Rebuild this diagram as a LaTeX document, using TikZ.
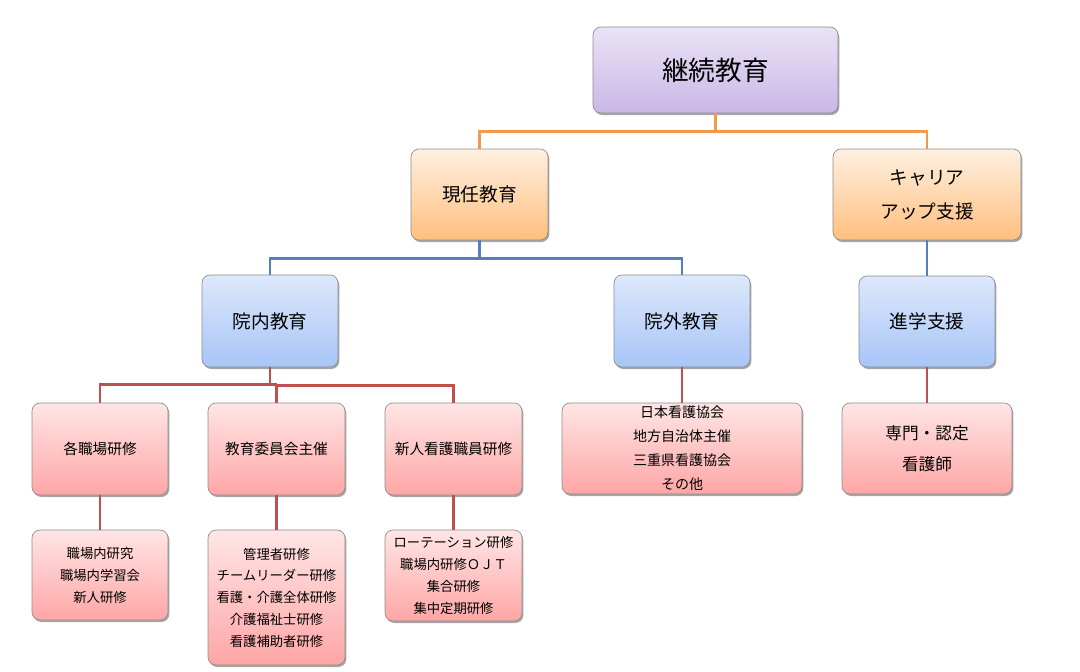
\documentclass[tikz,border=0pt]{standalone}
\usepackage{fontspec}
\setmainfont{Noto Sans CJK JP}
\usepackage{tikz}
\usetikzlibrary{shadows}
\definecolor{bordegris}{HTML}{8C8C8C}
\definecolor{lnaranja}{HTML}{F29A4A}
\definecolor{lazul}{HTML}{4F81BD}
\definecolor{lroja}{HTML}{C0504D}
\definecolor{azularriba}{HTML}{DDE8FB}
\definecolor{azulabajo}{HTML}{A7C5F7}
\definecolor{moradaarriba}{HTML}{EAE3F5}
\definecolor{moradaabajo}{HTML}{C9B7E7}
\tikzstyle{caja} = [draw=bordegris, line width=0.5pt, rectangle, rounded corners=6pt, inner sep=2pt, align=center,
  drop shadow={shadow xshift=1pt, shadow yshift=-1.5pt, opacity=0.35, fill=black}]
\tikzstyle{morada} = [caja, top color=moradaarriba, bottom color=moradaabajo]
\tikzstyle{naranja} = [caja, top color=orange!12, bottom color=orange!50]
\tikzstyle{azul} = [caja, top color=azularriba, bottom color=azulabajo]
\tikzstyle{rosa} = [caja, top color=red!10, bottom color=red!35]
\tikzstyle{lineanaranja} = [draw=lnaranja, line width=2.2pt]
\tikzstyle{lineaazul} = [draw=lazul, line width=2.2pt]
\tikzstyle{linearoja} = [draw=lroja, line width=2.2pt]
\begin{document}
\begin{tikzpicture}[x=0.75pt, y=-0.75pt]
	\useasboundingbox (0,0) rectangle (1080,671);
	% primer nivel
	\node[morada, minimum width=183.75pt, minimum height=64.5pt, font=\fontsize{20}{24}\selectfont] (keizoku) at (715.5,70) {継続教育};
	% segundo nivel
	\node[naranja, minimum width=102.75pt, minimum height=68.25pt, font=\fontsize{14}{17}\selectfont] (genin) at (479.5,194.5) {現任教育};
	\node[naranja, minimum width=141pt, minimum height=68.25pt, font=\fontsize{14}{25.5}\selectfont] (career) at (927,194.5) {キャリア\\アップ支援};
	% tercer nivel
	\node[azul, minimum width=102pt, minimum height=69pt, font=\fontsize{14}{17}\selectfont] (innai) at (270,321) {院内教育};
	\node[azul, minimum width=102pt, minimum height=69pt, font=\fontsize{14}{17}\selectfont] (ingai) at (682,321) {院外教育};
	\node[azul, minimum width=102pt, minimum height=68.25pt, font=\fontsize{14}{17}\selectfont] (shingaku) at (927,321.5) {進学支援};
	% cuarto nivel
	\node[rosa, minimum width=102pt, minimum height=69pt, font=\fontsize{11}{14}\selectfont] (kakushoku) at (100,449) {各職場研修};
	\node[rosa, minimum width=102.75pt, minimum height=69pt, font=\fontsize{11}{14}\selectfont] (iinkai) at (276.5,449) {教育委員会主催};
	\node[rosa, minimum width=102.75pt, minimum height=69pt, font=\fontsize{11}{14}\selectfont] (shinjin) at (453.5,449) {新人看護職員研修};
	\node[rosa, minimum width=180pt, minimum height=68.25pt, font=\fontsize{10.5}{18}\selectfont] (kyokai) at (682,448.5) {日本看護協会\\地方自治体主催\\三重県看護協会\\その他};
	\node[rosa, minimum width=127.5pt, minimum height=68.25pt, font=\fontsize{12.5}{23}\selectfont] (senmon) at (927,448.5) {専門・認定\\看護師};
	% quinto nivel
	\node[rosa, minimum width=102pt, minimum height=67.5pt, font=\fontsize{10}{16.5}\selectfont] (kenkyu) at (100,575) {職場内研究\\職場内学習会\\新人研修};
	\node[rosa, minimum width=102.75pt, minimum height=101.25pt, font=\fontsize{10}{16.3}\selectfont] (kanri) at (276.5,597.5) {管理者研修\\チームリーダー研修\\看護・介護全体研修\\介護福祉士研修\\看護補助者研修};
	\node[rosa, minimum width=102.75pt, minimum height=68.25pt, font=\fontsize{10}{16.3}\selectfont] (rotation) at (453.5,575.5) {ローテーション研修\\職場内研修ＯＪＴ\\集合研修\\集中定期研修};
	% conectores
	\draw[lineanaranja] (keizoku.south) -- ++(0,18) -| (genin.north);
	\draw[lineanaranja] (keizoku.south) -- ++(0,18) -| (career.north);
	\draw[lineaazul] (genin.south) -- ++(0,18) -| (innai.north);
	\draw[lineaazul] (genin.south) -- ++(0,18) -| (ingai.north);
	\draw[lineaazul] (career.south) -- (shingaku.north);
	\draw[linearoja] (innai.south) -- ++(0,17) -| (kakushoku.north);
	\draw[linearoja] (iinkai.north) -- ++(0,-17) -| (shinjin.north);
	\draw[linearoja] (innai.south) -- ++(0,17) -- ++(7,0);
	\draw[linearoja] (ingai.south) -- (kyokai.north);
	\draw[linearoja] (shingaku.south) -- (senmon.north);
	\draw[linearoja] (kakushoku.south) -- (kenkyu.north);
	\draw[linearoja] (iinkai.south) -- (kanri.north);
	\draw[linearoja] (shinjin.south) -- (rotation.north);
\end{tikzpicture}
\end{document}
